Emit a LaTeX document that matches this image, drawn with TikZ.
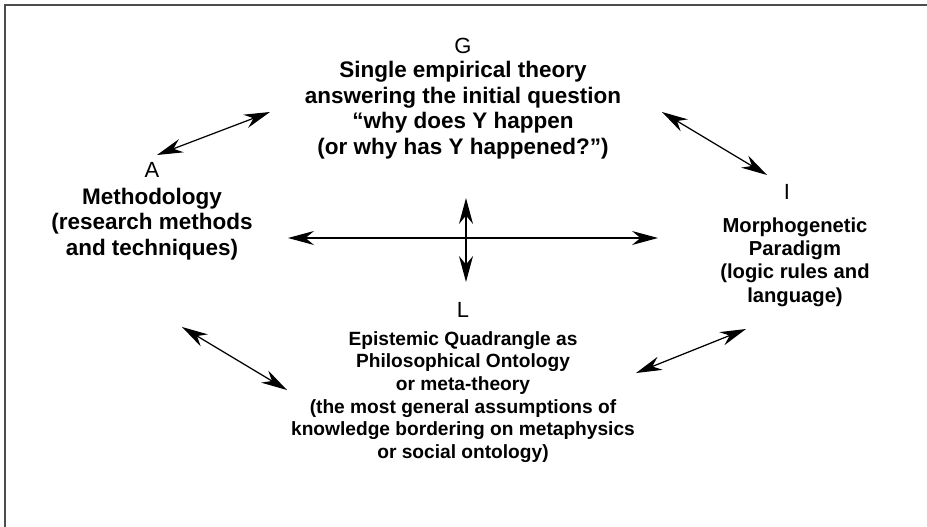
\documentclass[tikz,border=0pt]{standalone}
\usepackage{fontspec}
\setmainfont{Liberation Sans}
\usetikzlibrary{arrows.meta}

\begin{document}
\begin{tikzpicture}[x=0.02cm, y=-0.02cm, line width=0.7pt,
    >={Stealth[length=0.52cm, width=0.28cm, inset=0.17cm]}]
    \tikzset{letter/.style={inner sep=0pt, font=\fontsize{12.5}{14}\selectfont},
      maintext/.style={align=center, inner sep=0pt, font=\fontsize{12.8}{14.5}\selectfont\bfseries},
      sidetext/.style={align=center, inner sep=0pt, font=\fontsize{11.5}{13.3}\selectfont\bfseries},
      lowtext/.style={align=center, inner sep=0pt, font=\fontsize{10.9}{12.9}\selectfont\bfseries}}
    \useasboundingbox (0,0) rectangle (927,527);
    % frame (top and left edge only)
    \draw[black!70, line width=1.1pt] (927,5) -- (5,5) -- (5,527);
    % G
    \node[letter] (G) at (463,46) {G};
    \node[maintext] (Gtext) at (463,110) {Single empirical theory\\answering the initial question\\%
      ``why does Y happen\\(or why has Y happened?'')};
    % A
    \node[letter] (A) at (152,170) {A};
    \node[maintext] (Atext) at (152,224) {Methodology\\(research methods\\and techniques)};
    % I
    \node[letter] (I) at (787,192) {I};
    \node[sidetext] (Itext) at (795,262) {Morphogenetic\\Paradigm\\(logic rules and\\language)};
    % L
    \node[letter] (L) at (463,310) {L};
    \node[lowtext] (Ltext) at (463,397) {Epistemic Quadrangle as\\Philosophical Ontology\\or meta-theory\\%
      (the most general assumptions of\\knowledge bordering on metaphysics\\or social ontology)};
    % arrow ends
    \coordinate (ag1) at (157,155);  \coordinate (ag2) at (270,112);
    \coordinate (gi1) at (662,112);  \coordinate (gi2) at (767,175);
    \coordinate (al1) at (182,327);  \coordinate (al2) at (287,390);
    \coordinate (li1) at (636,373);  \coordinate (li2) at (746,329);
    \coordinate (ai1) at (288,238);  \coordinate (ai2) at (658,238);
    \coordinate (gl1) at (466,198);  \coordinate (gl2) at (466,282);
    \draw[<->] (ag1) -- (ag2);
    \draw[<->] (gi1) -- (gi2);
    \draw[<->] (al1) -- (al2);
    \draw[<->] (li1) -- (li2);
    \draw[<->] (ai1) -- (ai2);
    \draw[<->] (gl1) -- (gl2);
\end{tikzpicture}
\end{document}
